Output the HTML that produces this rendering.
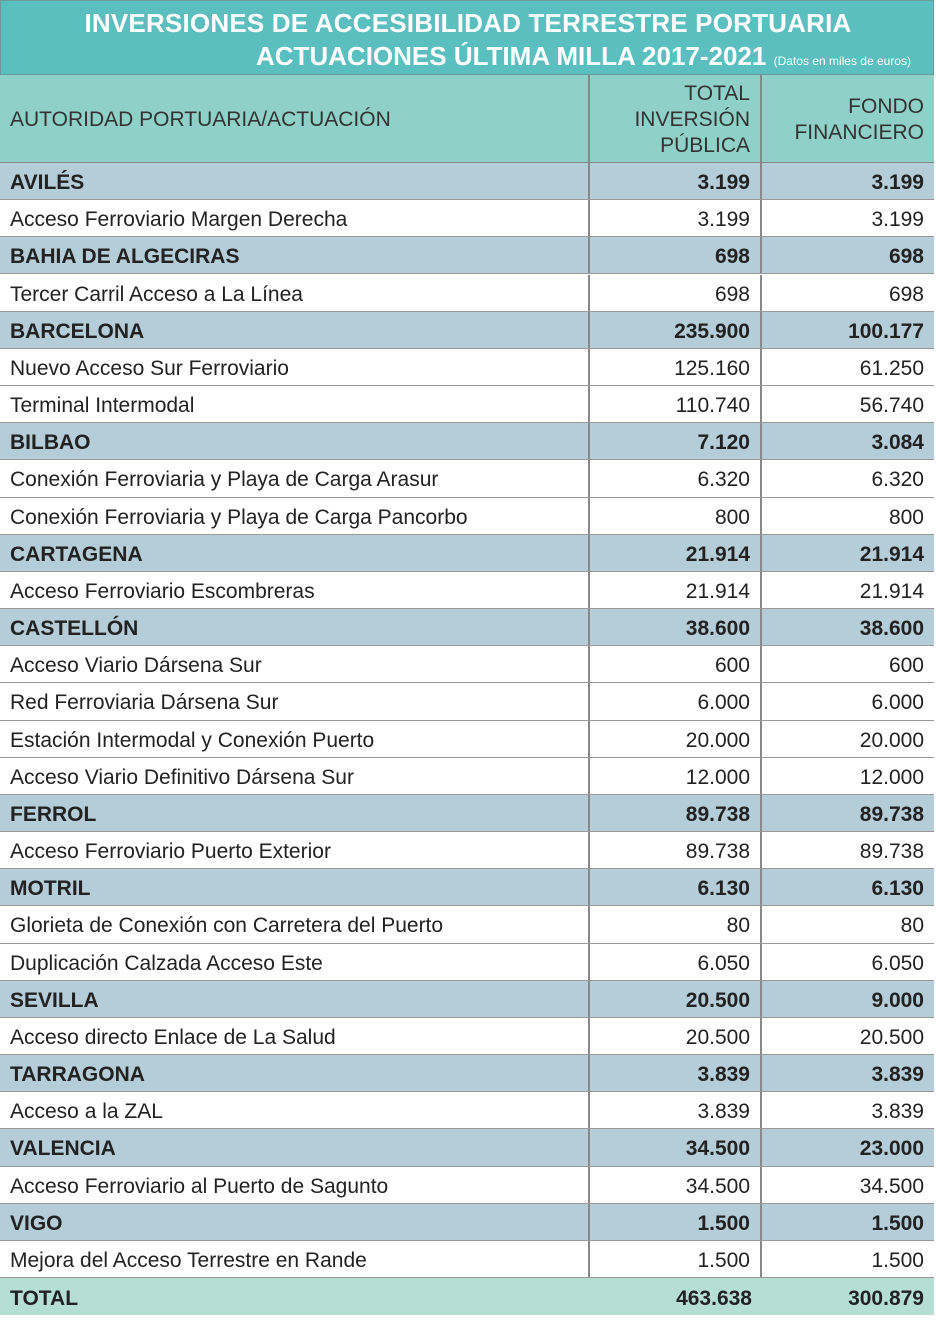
<!DOCTYPE html>
<html><head><meta charset="utf-8"><style>
*{margin:0;padding:0;box-sizing:border-box}
body{width:936px;height:1323px;background:#fff;font-family:"Liberation Sans",sans-serif;position:relative;overflow:hidden}
.title{position:absolute;left:0;top:0;width:934px;height:75px;background:#5bbfc0;border:1px solid #6a9a9a;color:#fff;font-weight:bold;text-align:center}
.t1{position:absolute;top:7px;left:0;width:934px;font-size:26px;letter-spacing:0.2px}
.t2{position:absolute;top:40px;right:22px;font-size:26px}
.t2 small{font-size:12px;font-weight:normal}
.row{position:absolute;left:0;width:934px;height:37.17px;display:flex;border-bottom:1px solid #999;font-size:21px;color:#222}
.row div{height:100%;display:flex;align-items:center;padding-top:4px}
.c1{width:590px;padding-left:10px;border-right:2px solid #888}
.c2{width:172px;justify-content:flex-end;padding-right:10px;border-right:2px solid #888}
.c3{width:172px;justify-content:flex-end;padding-right:10px}
.g{background:#b4cdd8;font-weight:bold}
.w{background:#fff}
.hd{position:absolute;left:0;top:75px;width:934px;height:88px;background:#8fd1c8;display:flex;font-size:21px;color:#333;border-bottom:1px solid #888}
.hd div{height:100%;display:flex;align-items:center;padding-top:3px}
.tot{background:#b6dfd4;font-weight:bold;border-bottom:none}
.tot .c1,.tot .c2{border-right:none}
</style></head><body>
<div class="title"><div class="t1">INVERSIONES DE ACCESIBILIDAD TERRESTRE PORTUARIA</div><div class="t2">ACTUACIONES ÚLTIMA MILLA 2017-2021 <small>(Datos en miles de euros)</small></div></div>
<div class="hd"><div class="c1">AUTORIDAD PORTUARIA/ACTUACIÓN</div><div class="c2" style="text-align:right;line-height:26px">TOTAL<br>INVERSIÓN<br>PÚBLICA</div><div class="c3" style="text-align:right;line-height:26px">FONDO<br>FINANCIERO</div></div>
<div id="rows"></div>
<script>
var d=[["g","AVILÉS","3.199","3.199"],["w","Acceso Ferroviario Margen Derecha","3.199","3.199"],
["g","BAHIA DE ALGECIRAS","698","698"],["w","Tercer Carril Acceso a La Línea","698","698"],
["g","BARCELONA","235.900","100.177"],["w","Nuevo Acceso Sur Ferroviario","125.160","61.250"],["w","Terminal Intermodal","110.740","56.740"],
["g","BILBAO","7.120","3.084"],["w","Conexión Ferroviaria y Playa de Carga Arasur","6.320","6.320"],["w","Conexión Ferroviaria y Playa de Carga Pancorbo","800","800"],
["g","CARTAGENA","21.914","21.914"],["w","Acceso Ferroviario Escombreras","21.914","21.914"],
["g","CASTELLÓN","38.600","38.600"],["w","Acceso Viario Dársena Sur","600","600"],["w","Red Ferroviaria Dársena Sur","6.000","6.000"],["w","Estación Intermodal y Conexión Puerto","20.000","20.000"],["w","Acceso Viario Definitivo Dársena Sur","12.000","12.000"],
["g","FERROL","89.738","89.738"],["w","Acceso Ferroviario Puerto Exterior","89.738","89.738"],
["g","MOTRIL","6.130","6.130"],["w","Glorieta de Conexión con Carretera del Puerto","80","80"],["w","Duplicación Calzada Acceso Este","6.050","6.050"],
["g","SEVILLA","20.500","9.000"],["w","Acceso directo Enlace de La Salud","20.500","20.500"],
["g","TARRAGONA","3.839","3.839"],["w","Acceso a la ZAL","3.839","3.839"],
["g","VALENCIA","34.500","23.000"],["w","Acceso Ferroviario al Puerto de Sagunto","34.500","34.500"],
["g","VIGO","1.500","1.500"],["w","Mejora del Acceso Terrestre en Rande","1.500","1.500"],
["tot","TOTAL","463.638","300.879"]];
var h="";d.forEach(function(r,i){var top=163+i*37.17;var tot=r[0]=="tot";
h+='<div class="row '+(tot?'g tot':r[0])+'" style="top:'+top+'px"><div class="c1">'+r[1]+'</div><div class="c2">'+r[2]+'</div><div class="c3">'+r[3]+'</div></div>';});
document.getElementById("rows").innerHTML=h;
</script>
</body></html>
